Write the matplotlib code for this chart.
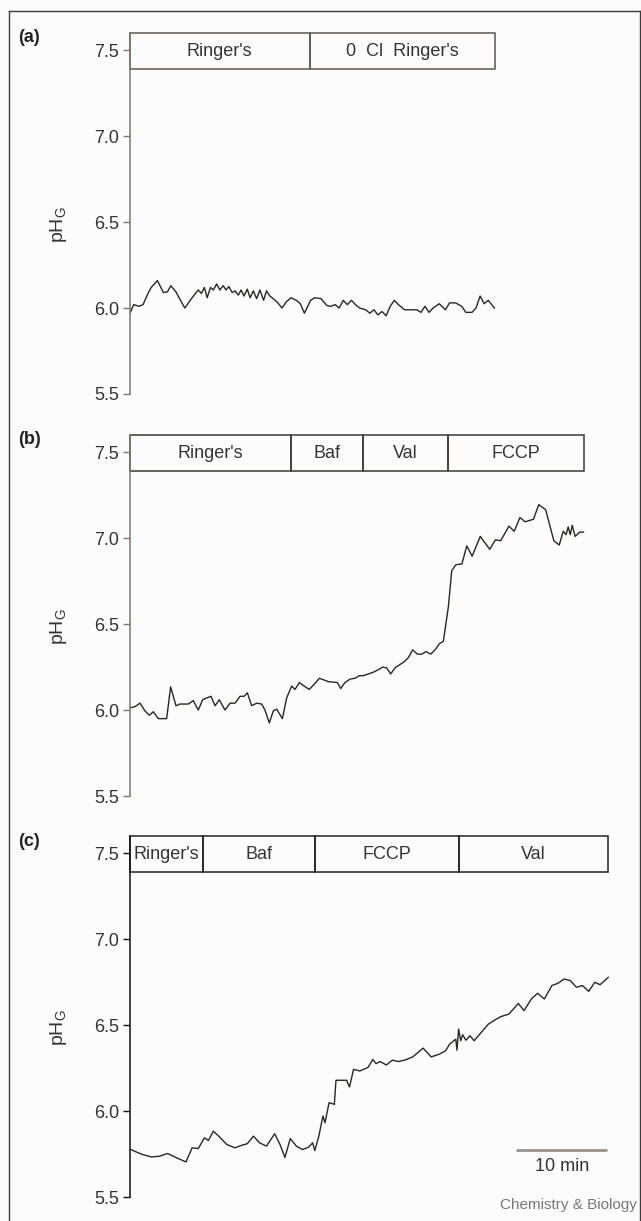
import matplotlib.pyplot as plt
from matplotlib.patches import Rectangle
from matplotlib.lines import Line2D

plt.rcParams['font.family'] = ['Liberation Sans', 'DejaVu Sans']
plt.rcParams['mathtext.fontset'] = 'custom'
plt.rcParams['mathtext.rm'] = 'Liberation Sans'
plt.rcParams['mathtext.it'] = 'Liberation Sans:italic'

# --- readings: time (min) and pH_G ---
t_a = [0, 0.41, 0.99, 1.44, 1.98, 2.34, 3.02, 3.69, 4.14, 4.50, 5.05, 6.04, 6.85,
       7.52, 7.88, 8.20, 8.51, 8.87, 9.19, 9.55, 9.91, 10.27, 10.59, 10.90, 11.26,
       11.58, 11.94, 12.25, 12.57, 12.93, 13.24, 13.60, 13.96, 14.32, 14.73, 15.05,
       15.41, 15.77, 16.22, 16.76, 17.21, 17.75, 18.33, 18.78, 19.23, 19.91, 20.36,
       21.04, 21.71, 22.16, 22.61, 23.06, 23.51, 23.96, 24.41, 24.86, 25.32, 25.99,
       26.44, 26.89, 27.34, 27.79, 28.24, 28.69, 29.14, 29.59, 30.27, 30.95, 31.62,
       32.07, 32.52, 32.97, 33.42, 34.10, 34.77, 35.23, 35.90, 36.58, 37.03, 37.70,
       38.15, 38.60, 39.05, 39.50, 40.18]
ph_a = [5.97, 6.02, 6.01, 6.02, 6.085, 6.12, 6.16, 6.09, 6.095, 6.13, 6.095, 6.0, 6.06,
        6.105, 6.085, 6.12, 6.06, 6.12, 6.105, 6.14, 6.105, 6.13, 6.105, 6.125, 6.09,
        6.10, 6.075, 6.105, 6.07, 6.11, 6.06, 6.10, 6.055, 6.105, 6.045, 6.10,
        6.07, 6.055, 6.035, 6.0, 6.035, 6.06, 6.045, 6.025, 5.97, 6.045, 6.06,
        6.055, 6.015, 6.01, 6.02, 6.0, 6.045, 6.02, 6.045, 6.02, 6.0, 5.99,
        5.97, 5.99, 5.96, 5.98, 5.955, 6.01, 6.045, 6.02, 5.99, 5.99, 5.99,
        5.975, 6.01, 5.975, 6.0, 6.025, 5.99, 6.03, 6.03, 6.01, 5.975, 5.975,
        6.0, 6.07, 6.025, 6.045, 6.0]

t_b = [0.07, 0.55, 1.10, 1.65, 2.13, 2.57, 3.12, 4.04, 4.48, 5.07, 5.51, 6.43, 6.98,
       7.53, 8.01, 8.45, 8.93, 9.37, 9.85, 10.47, 11.03, 11.58, 12.13, 12.57, 12.94,
       13.41, 13.97, 14.52, 14.88, 15.36, 15.80, 16.17, 16.80, 17.27, 17.82, 18.19,
       18.67, 19.18, 19.77, 20.40, 20.87, 21.39, 21.87, 22.86, 23.23, 23.70, 24.26,
       24.81, 25.28, 25.73, 26.28, 26.83, 27.38, 27.86, 28.30, 28.74, 29.22, 29.77,
       30.21, 30.69, 31.17, 31.68, 32.16, 32.64, 33.15, 33.63, 34.10, 34.55, 35.10,
       35.47, 35.92, 36.59, 37.13, 37.72, 38.62, 39.66, 40.29, 40.87, 41.78, 42.36,
       42.99, 43.58, 44.48, 45.07, 45.83, 46.73, 47.32, 47.77, 48.08, 48.31, 48.54,
       48.76, 49.08, 49.57, 50.0]
ph_b = [6.014, 6.02, 6.04, 5.995, 5.97, 5.99, 5.95, 5.95, 6.135, 6.025, 6.035, 6.035, 6.055,
        6.0, 6.06, 6.07, 6.08, 6.025, 6.06, 6.0, 6.04, 6.04, 6.08, 6.08, 6.10,
        6.025, 6.04, 6.035, 6.0, 5.925, 5.995, 6.005, 5.95, 6.07, 6.14, 6.12,
        6.16, 6.14, 6.12, 6.155, 6.185, 6.175, 6.165, 6.16, 6.125, 6.16, 6.18,
        6.185, 6.20, 6.20, 6.21, 6.22, 6.235, 6.25, 6.245, 6.21, 6.245, 6.265,
        6.28, 6.305, 6.35, 6.325, 6.325, 6.34, 6.325, 6.35, 6.385, 6.40, 6.60,
        6.81, 6.845, 6.85, 6.955, 6.895, 7.01, 6.935, 6.99, 6.985, 7.07, 7.04,
        7.12, 7.095, 7.11, 7.195, 7.165, 6.985, 6.96, 7.04, 7.02, 7.065, 7.02,
        7.075, 7.01, 7.035, 7.035]

t_c = [0.09, 1.22, 2.34, 3.24, 4.15, 5.14, 6.17, 6.85, 7.53, 8.20, 8.65, 9.19, 9.78,
       10.68, 11.58, 12.26, 12.93, 13.61, 14.29, 15.05, 15.95, 16.54, 17.08, 17.67,
       18.34, 19.02, 19.69, 20.14, 20.37, 20.82, 21.27, 21.50, 21.95, 22.53, 22.71,
       23.43, 23.88, 24.20, 24.65, 25.33, 26.23, 26.77, 27.13, 27.58, 28.26, 28.93,
       29.61, 30.28, 31.18, 32.31, 33.21, 34.11, 34.79, 35.24, 35.92, 36.05, 36.23,
       36.46, 36.68, 37.04, 37.49, 37.94, 38.62, 39.52, 40.20, 40.87, 41.78, 42.81,
       43.44, 44.25, 44.93, 45.69, 46.51, 47.18, 47.86, 48.54, 49.22, 49.89, 50.57,
       51.24, 51.83, 52.73]
ph_c = [5.776, 5.75, 5.733, 5.737, 5.753, 5.728, 5.704, 5.786, 5.782, 5.844, 5.829, 5.883, 5.854,
        5.805, 5.786, 5.80, 5.81, 5.854, 5.815, 5.796, 5.868, 5.805, 5.73, 5.84,
        5.796, 5.776, 5.79, 5.815, 5.77, 5.854, 5.971, 5.932, 6.049, 6.039, 6.179,
        6.179, 6.179, 6.14, 6.243, 6.233, 6.253, 6.30, 6.276, 6.288, 6.268, 6.296,
        6.288, 6.296, 6.315, 6.366, 6.315, 6.331, 6.35, 6.389, 6.418, 6.354, 6.477,
        6.409, 6.444, 6.412, 6.438, 6.409, 6.451, 6.506, 6.529, 6.549, 6.564, 6.626,
        6.584, 6.652, 6.685, 6.652, 6.73, 6.743, 6.768, 6.759, 6.72, 6.73, 6.696,
        6.749, 6.735, 6.778]

# solution periods (boundaries in min) shown in the bar above each trace
bounds_a = [0, 19.8, 40.2]
labels_a = ["Ringer's", "0  Cl  Ringer's"]
bounds_b = [0, 17.7, 25.7, 35.1, 50.0]
labels_b = ["Ringer's", "Baf", "Val", "FCCP"]
bounds_c = [0, 8.1, 20.4, 36.3, 52.7]
labels_c = ["Ringer's", "Baf", "FCCP", "Val"]

yticks = [5.5, 6.0, 6.5, 7.0, 7.5]
scale_bar = [42.6, 52.6]   # 10 min

# --- layout (pixels) ---
W, H = 641, 1221
bg = '#fcfcfc'
trace_col = '#2a2622'
ax_left, ax_w, ax_h = 130, 490, 361
panel_tops = [33, 435, 836]
ymin, ymax = 5.5, 7.6
box_lo = 7.39
px_per_min = 9.07

fig = plt.figure(figsize=(W / 100, H / 100), dpi=100, facecolor=bg)

# outer frame
frame_kw = dict(color='#3a3a3a', lw=1.0, transform=fig.transFigure)
fig.add_artist(Line2D([8.5 / W, 8.5 / W], [0, 1 - 11 / H], **frame_kw))
fig.add_artist(Line2D([8.5 / W, 639.5 / W], [1 - 11 / H, 1 - 11 / H], **frame_kw))
fig.add_artist(Line2D([639.5 / W, 639.5 / W], [0, 1 - 11 / H], **frame_kw))

panels = [
    ('(a)', t_a, ph_a, bounds_a, labels_a, '#7f766e', '#5e5650'),
    ('(b)', t_b, ph_b, bounds_b, labels_b, '#7f766e', '#3e3835'),
    ('(c)', t_c, ph_c, bounds_c, labels_c, '#111111', '#222222'),
]

for (tag, t, ph, bounds, labels, spine_col, box_col), top in zip(panels, panel_tops):
    ax = fig.add_axes([ax_left / W, 1 - (top + ax_h) / H, ax_w / W, ax_h / H])
    ax.set_facecolor('none')
    ax.plot(t, ph, color=trace_col, lw=1.0)
    ax.set_xlim(0, ax_w / px_per_min)
    ax.set_ylim(ymin, ymax)

    for s in ['top', 'right', 'bottom']:
        ax.spines[s].set_visible(False)
    ax.spines['left'].set_color(spine_col)
    ax.spines['left'].set_linewidth(1.1)
    ax.set_xticks([])
    ax.set_yticks(yticks)
    ax.set_yticklabels([f'{v:.1f}' for v in yticks])
    ax.tick_params(axis='y', length=5, width=1.0, color=spine_col, pad=3,
                   labelsize=13, labelcolor='#333333')

    ax.set_ylabel(r'$\mathrm{pH_G}$', fontsize=14, color='#333333')
    ax.yaxis.set_label_coords(-0.125, 0.47)

    # solution bar
    for x0, x1, lab in zip(bounds[:-1], bounds[1:], labels):
        ax.add_patch(Rectangle((x0, box_lo), x1 - x0, ymax - box_lo, fill=False,
                               edgecolor=box_col, lw=1.1, clip_on=False))
        ax.text((x0 + x1) / 2, (box_lo + ymax) / 2, lab, ha='center', va='center',
                fontsize=13, color='#333333')

    fig.text(18 / W, 1 - (top + 5) / H, tag, fontsize=13, fontweight='bold',
             color='#222222', ha='left', va='center')

# 10 min scale bar in panel (c)
ax.plot(scale_bar, [5.775, 5.775], color='#9a918a', lw=2.0, solid_capstyle='butt')
ax.text(sum(scale_bar) / 2, 5.675, '10 min', ha='center', va='center',
        fontsize=13, color='#333333')

fig.text(637 / W, 1 - 1205 / H, 'Chemistry & Biology', ha='right', va='center',
         fontsize=11, color='#777777')

fig.savefig('out.png', dpi=100, facecolor=bg)
